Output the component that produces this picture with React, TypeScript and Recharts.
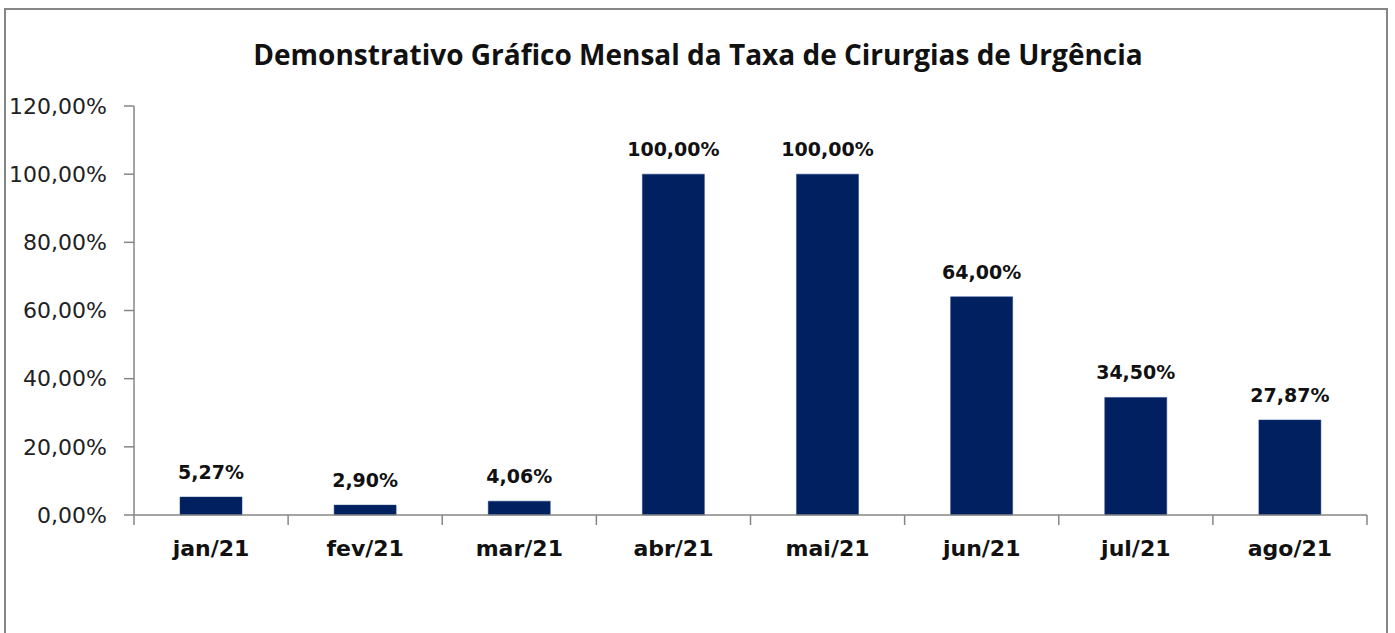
import { BarChart, Bar, XAxis, YAxis, LabelList } from "recharts";

const months = ["jan/21", "fev/21", "mar/21", "abr/21", "mai/21", "jun/21", "jul/21", "ago/21"];
const rates = [5.27, 2.9, 4.06, 100, 100, 64, 34.5, 27.87];
const yTicks = [0, 20, 40, 60, 80, 100, 120];

const data = months.map((month, i) => ({ month, rate: rates[i] }));

const pct = (v: number) => v.toFixed(2).replace(".", ",") + "%";

const TITLE_FONT = "'Open Sans', sans-serif";
const FONT = "'DejaVu Sans', sans-serif";
const AXIS = "#868686";

const CHART_W = 1395;
const MARGIN = { top: 106, right: 28, bottom: 88, left: 34 };
const Y_W = 100;

// category label plus Excel-style tick marks on the category boundaries
const MonthTick = (props: any) => {
  const { x, y, payload, index } = props;
  const half = payload?.offset ?? (CHART_W - MARGIN.left - MARGIN.right - Y_W) / months.length / 2;
  return (
    <g>
      <line x1={x - half} x2={x - half} y1={y} y2={y + 10} stroke={AXIS} strokeWidth={1.5} />
      {index === months.length - 1 && (
        <line x1={x + half} x2={x + half} y1={y} y2={y + 10} stroke={AXIS} strokeWidth={1.5} />
      )}
      <text x={x} y={y + 25} dy="0.71em" textAnchor="middle" fill="#111" fontFamily={FONT} fontWeight={700} fontSize={22}>
        {payload.value}
      </text>
    </g>
  );
};

export default function App() {
  return (
    <div style={{ position: "fixed", left: 0, top: 0, width: 1395, height: 633, overflow: "hidden", background: "#fff" }}>
      <div
        style={{
          position: "absolute",
          left: 4,
          top: 8,
          width: 1380,
          height: 640,
          border: "2px solid #868686",
        }}
      />
      <div
        style={{
          position: "absolute",
          left: 0,
          top: 35,
          width: 1396,
          textAlign: "center",
          fontFamily: TITLE_FONT,
          fontWeight: 700,
          fontSize: 28,
          lineHeight: "38px",
          color: "#111",
        }}
      >
        Demonstrativo Gráfico Mensal da Taxa de Cirurgias de Urgência
      </div>
      <div style={{ position: "absolute", left: 0, top: 0 }}>
        <BarChart width={CHART_W} height={633} data={data} margin={MARGIN}>
          <XAxis
            dataKey="month"
            interval={0}
            height={30}
            tickLine={false}
            tickSize={0}
            tickMargin={0}
            axisLine={{ stroke: AXIS, strokeWidth: 1.5 }}
            tick={<MonthTick />}
          />
          <YAxis
            domain={[0, 120]}
            ticks={yTicks}
            width={Y_W}
            tickFormatter={pct}
            tickSize={10}
            tickMargin={17}
            axisLine={{ stroke: AXIS, strokeWidth: 1.5 }}
            tickLine={{ stroke: AXIS, strokeWidth: 1.5 }}
            tick={{ fill: "#222", fontFamily: FONT, fontSize: 22 }}
          />
          <Bar dataKey="rate" fill="#002060" stroke="#1a3a7a" strokeWidth={0.5} barSize={62} isAnimationActive={false}>
            <LabelList
              dataKey="rate"
              position="top"
              offset={18}
              formatter={(v: any) => pct(Number(v))}
              style={{ fill: "#111", fontFamily: FONT, fontWeight: 700, fontSize: 19 }}
            />
          </Bar>
        </BarChart>
      </div>
    </div>
  );
}
